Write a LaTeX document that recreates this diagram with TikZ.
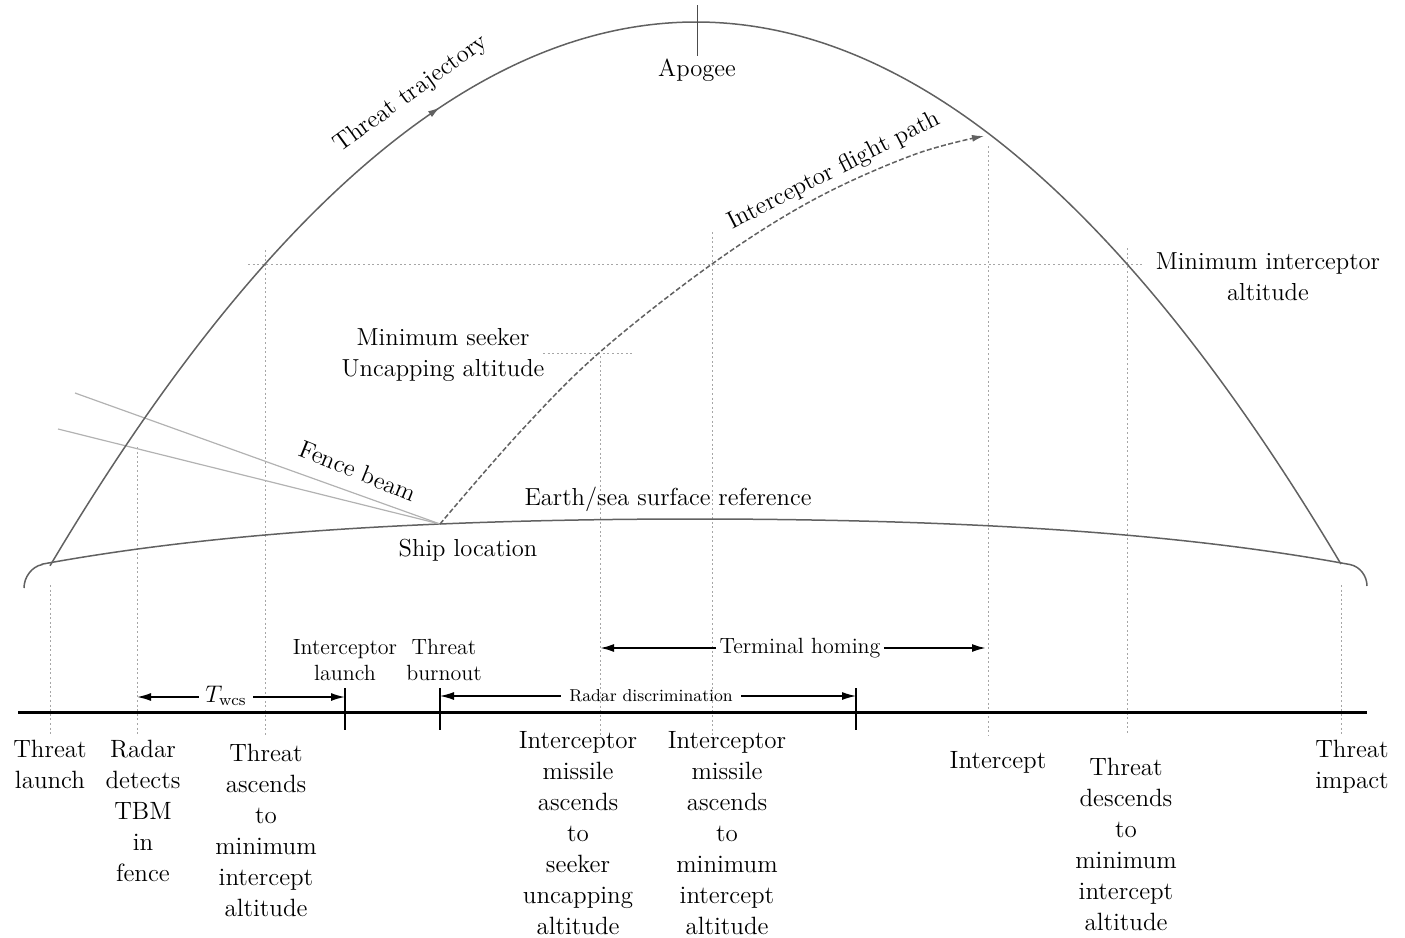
\documentclass[tikz,border=0pt]{standalone}
\usepackage{fontspec}
\usetikzlibrary{arrows.meta}
\begin{document}
\begin{tikzpicture}[x=0.5pt,y=-0.5pt,
  traj/.style={draw=black!62, line width=0.75pt},
  guide/.style={draw=black!35, line width=0.5pt, dash pattern=on 1pt off 1.3pt},
  beam/.style={draw=black!30, line width=0.6pt},
  lbl/.style={font=\fontsize{12.3}{15.5}\selectfont, align=center, inner sep=0pt},
  blbl/.style={font=\fontsize{12.5}{15.5}\selectfont, align=center, inner sep=0pt, anchor=north},
  slbl/.style={font=\fontsize{11}{13}\selectfont, align=center, inner sep=0pt},
  dimline/.style={draw=black, line width=0.8pt},
  tick/.style={draw=black, line width=0.6pt},
  blacktip/.style={-{Latex[length=7pt,width=4pt]}},
  graytip/.style={-{Latex[length=6pt,width=3.5pt]}},
]
\useasboundingbox (0,0) rectangle (1405,938);

% named points
\coordinate (ship) at (440,524);
\coordinate (hit) at (984,136);

% dotted guide lines
\draw[guide] (248,264) -- (1143,264);
\draw[guide] (543,353) -- (633,353);
\foreach \xx/\yy in {50/585, 137/447, 265/250, 600/356, 712/232, 988/146, 1127/248, 1341/585}
  \draw[guide] (\xx,\yy) -- (\xx,735);

% earth / sea surface
\draw[traj] (24,588) .. controls (24,577) and (32,566.5) .. (42,564.6)
  -- plot[domain=42:1350, samples=160] (\x,{519+0.717*((\x-695)/100)^2+0.00803*((\x-695)/100)^4})
  .. controls (1360,566.5) and (1367,576) .. (1367,586);

% fence beam
\draw[beam] (ship) -- (75,393);
\draw[beam] (ship) -- (58,429);

% threat trajectory
\draw[traj, graytip] plot[domain=50:440, samples=60] (\x,{22+13.03*((\x-696)/100)^2});
\draw[traj] plot[domain=436:1341, samples=140] (\x,{22+13.03*((\x-696)/100)^2});

% apogee tick
\draw[draw=black!70, line width=0.5pt] (697,5) -- (697,56);

% interceptor flight path
\draw[traj, graytip, dash pattern=on 2.5pt off 1.2pt] plot[smooth, tension=0.6] coordinates {(ship) (520,432) (600,352) (712,264) (813,200) (913,155) (hit)};

% labels on the figure
\node[lbl, rotate=36] (tlab) at (411,94) {Threat trajectory};
\node[lbl, rotate=27] (ilab) at (834,171) {Interceptor flight path};
\node[lbl, rotate=-22] (flab) at (358,471) {Fence beam};
\node[lbl] (apo) at (697,70) {Apogee};
\node[lbl] (mseek) at (443,355) {Minimum seeker\\Uncapping altitude};
\node[lbl] (mint) at (1268,277) {Minimum interceptor\\altitude};
\node[lbl] (earth) at (668,499) {Earth/sea surface reference};
\node[lbl] (shiplab) at (468,550) {Ship location};

% time line
\draw[line width=1.5pt] (18,712) -- (1367,712);
\draw[tick] (345,688) -- (345,730);
\draw[tick] (440,688) -- (440,730);
\draw[tick] (856,688) -- (856,730);

\node[slbl] (ilaunch) at (345,660) {Interceptor\\launch};
\node[slbl] (tburn) at (444,660) {Threat\\burnout};

% T_wcs
\node[font=\fontsize{12}{14}\selectfont, inner sep=3pt] (tw) at (226,696) {$T_{\mathrm{wcs}}$};
\coordinate (twl) at (137,697);
\coordinate (twr) at (345,697);
\draw[dimline, blacktip] (tw.west |- twl) -- (twl);
\draw[dimline, blacktip] (tw.east |- twr) -- (twr);

% radar discrimination
\node[font=\fontsize{8.6}{10}\selectfont, inner sep=4pt] (rd) at (651,696) {Radar discrimination};
\coordinate (rdl) at (440,696);
\coordinate (rdr) at (856,696);
\draw[dimline, line width=0.6pt, blacktip] (rd.west) -- (rdl);
\draw[dimline, line width=0.6pt, blacktip] (rd.east) -- (rdr);

% terminal homing
\node[font=\fontsize{11}{13}\selectfont, inner sep=1.5pt] (th) at (800,648) {Terminal homing};
\coordinate (thl) at (600,648);
\coordinate (thr) at (986,648);
\draw[dimline, line width=1pt, blacktip] (th.west) -- (thl);
\draw[dimline, line width=1pt, blacktip] (th.east) -- (thr);

% event labels under the time line
\node[blbl] (e1) at (50,740) {Threat\\launch};
\node[blbl] (e2) at (143,740) {Radar\\detects\\TBM\\in\\fence};
\node[blbl] (e3) at (266,744) {Threat\\ascends\\to\\minimum\\intercept\\altitude};
\node[blbl] (e4) at (578,731) {Interceptor\\missile\\ascends\\to\\seeker\\uncapping\\altitude};
\node[blbl] (e5) at (727,731) {Interceptor\\missile\\ascends\\to\\minimum\\intercept\\altitude};
\node[blbl] (e6) at (998,751) {Intercept};
\node[blbl] (e7) at (1126,758) {Threat\\descends\\to\\minimum\\intercept\\altitude};
\node[blbl] (e8) at (1352,740) {Threat\\impact};
\end{tikzpicture}
\end{document}
